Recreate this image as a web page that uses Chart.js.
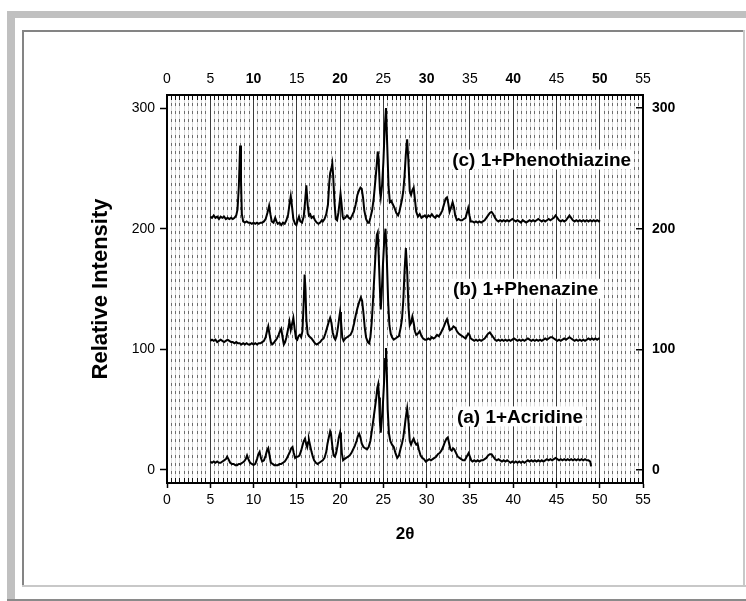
<!DOCTYPE html>
<html>
<head>
<meta charset="utf-8">
<title>XRD patterns</title>
<script src="https://cdn.jsdelivr.net/npm/chart.js@4.4.1/dist/chart.umd.min.js"></script>
<style>
  html, body { margin: 0; padding: 0; background: #fff; }
  canvas { display: block; }
</style>
</head>
<body>
<canvas id="xrd" width="746" height="601"></canvas>
<script>
// Powder XRD patterns: [2θ, relative intensity]; each pattern is stacked with its own offset
const phenothiazine = [
  [5.0,210],[5.2,209],[5.4,211],[5.6,209],[5.8,210],[6.0,208],[6.2,210],[6.4,209],[6.6,210],[6.8,208],
  [7.0,209],[7.2,208],[7.4,209],[7.6,208],[7.8,209],[8.0,211],[8.15,216],[8.3,235],[8.45,269],[8.55,240],
  [8.65,212],[8.8,206],[9.0,205],[9.2,206],[9.4,205],[9.6,205],[9.8,204],[10.0,205],[10.2,204],[10.4,205],
  [10.6,204],[10.8,205],[11.0,205],[11.2,206],[11.4,208],[11.6,213],[11.8,219],[11.95,212],[12.1,206],[12.3,205],
  [12.5,209],[12.65,206],[12.8,204],[13.0,205],[13.2,203],[13.4,205],[13.6,204],[13.8,207],[14.0,212],[14.15,220],
  [14.3,227],[14.45,218],[14.6,208],[14.8,204],[14.95,203],[15.1,207],[15.25,210],[15.4,206],[15.6,205],[15.8,210],
  [15.95,222],[16.1,236],[16.25,220],[16.4,211],[16.55,212],[16.7,209],[16.9,210],[17.1,207],[17.3,205],[17.5,204],
  [17.7,205],[17.9,207],[18.0,206],[18.2,208],[18.4,212],[18.6,220],[18.75,238],[18.85,246],[19.0,250],[19.1,254],
  [19.2,244],[19.35,222],[19.5,208],[19.65,207],[19.8,213],[19.95,222],[20.05,229],[20.15,222],[20.3,210],[20.4,208],
  [20.6,209],[20.8,211],[21.0,209],[21.2,208],[21.4,211],[21.6,214],[21.8,220],[22.0,228],[22.2,232],[22.35,234],
  [22.5,233],[22.65,226],[22.8,215],[23.0,208],[23.2,205],[23.35,205],[23.5,209],[23.7,215],[23.9,226],[24.05,238],
  [24.2,250],[24.35,264],[24.45,258],[24.6,232],[24.7,226],[24.85,236],[25.0,255],[25.15,282],[25.3,300],[25.45,268],
  [25.6,235],[25.75,222],[25.9,223],[26.1,220],[26.3,217],[26.5,213],[26.7,211],[26.85,214],[27.0,219],[27.15,224],
  [27.3,231],[27.45,244],[27.6,262],[27.75,274],[27.9,255],[28.05,231],[28.2,228],[28.35,232],[28.5,234],[28.65,224],
  [28.8,214],[29.0,210],[29.2,212],[29.4,209],[29.6,210],[29.8,211],[30.0,209],[30.2,211],[30.4,210],[30.6,212],
  [30.8,210],[31.0,209],[31.2,211],[31.4,210],[31.6,212],[31.8,215],[32.0,220],[32.2,225],[32.35,226],[32.5,221],
  [32.65,214],[32.8,217],[33.0,222],[33.15,218],[33.3,211],[33.5,207],[33.7,208],[33.9,207],[34.1,207],[34.3,208],
  [34.5,209],[34.65,213],[34.8,217],[34.95,211],[35.1,206],[35.3,206],[35.5,205],[35.7,206],[35.9,205],[36.1,206],
  [36.3,205],[36.5,206],[36.7,207],[36.9,209],[37.1,211],[37.3,213],[37.5,214],[37.7,212],[37.9,209],[38.1,207],
  [38.3,206],[38.5,207],[38.7,206],[38.9,207],[39.1,206],[39.3,207],[39.5,206],[39.7,207],[39.9,208],[40.1,207],
  [40.3,206],[40.5,207],[40.7,206],[40.9,205],[41.1,207],[41.3,206],[41.5,205],[41.7,206],[41.9,207],[42.1,206],
  [42.3,207],[42.5,206],[42.7,207],[42.9,208],[43.1,207],[43.3,206],[43.5,207],[43.7,206],[43.9,207],[44.1,208],
  [44.3,207],[44.5,208],[44.7,209],[44.9,211],[45.1,209],[45.3,207],[45.5,206],[45.7,207],[45.9,206],[46.1,207],
  [46.3,209],[46.5,211],[46.7,209],[46.9,207],[47.1,206],[47.3,207],[47.5,206],[47.7,207],[47.9,206],[48.1,207],
  [48.3,206],[48.5,207],[48.7,206],[48.9,207],[49.1,206],[49.3,207],[49.5,206],[49.7,207],[49.9,206],[50.0,207]
];

const phenazine = [
  [5.0,107],[5.2,108],[5.4,107],[5.6,108],[5.8,106],[6.0,107],[6.2,108],[6.4,107],[6.6,106],[6.8,107],
  [7.0,108],[7.2,107],[7.4,106],[7.6,106],[7.8,105],[8.0,106],[8.2,105],[8.4,105],[8.6,104],[8.8,105],
  [9.0,104],[9.2,105],[9.4,104],[9.6,104],[9.8,105],[10.0,104],[10.2,105],[10.4,104],[10.6,105],[10.8,105],
  [11.0,106],[11.2,107],[11.4,110],[11.55,115],[11.7,119],[11.85,112],[12.0,106],[12.15,104],[12.3,105],[12.5,107],
  [12.7,109],[12.9,112],[13.05,115],[13.2,117],[13.35,110],[13.5,104],[13.65,106],[13.8,110],[14.0,117],[14.15,123],
  [14.3,116],[14.45,121],[14.6,126],[14.75,117],[14.9,109],[15.05,108],[15.2,111],[15.35,112],[15.5,110],[15.65,115],
  [15.8,140],[15.9,162],[16.0,150],[16.1,125],[16.25,113],[16.4,111],[16.55,110],[16.7,109],[16.9,107],[17.1,105],
  [17.3,104],[17.5,105],[17.7,106],[17.9,108],[18.1,109],[18.3,113],[18.5,118],[18.7,123],[18.85,126],[19.0,122],
  [19.15,114],[19.3,110],[19.45,108],[19.6,111],[19.75,118],[19.9,126],[20.0,131],[20.1,124],[20.25,110],[20.4,107],
  [20.6,109],[20.8,110],[21.0,111],[21.2,112],[21.4,115],[21.6,121],[21.8,128],[22.0,134],[22.2,139],[22.4,143],
  [22.55,140],[22.7,130],[22.85,118],[23.0,110],[23.2,106],[23.35,105],[23.5,110],[23.65,122],[23.8,140],[23.95,160],
  [24.1,180],[24.25,195],[24.35,197],[24.45,180],[24.6,150],[24.7,133],[24.8,145],[24.95,170],[25.1,190],[25.25,200],
  [25.4,175],[25.55,140],[25.7,120],[25.85,113],[26.0,110],[26.2,108],[26.4,109],[26.6,110],[26.8,111],[27.0,118],
  [27.15,125],[27.3,140],[27.45,165],[27.6,184],[27.75,165],[27.9,135],[28.05,120],[28.2,122],[28.35,127],[28.5,122],
  [28.65,115],[28.8,112],[29.0,113],[29.2,115],[29.4,111],[29.6,109],[29.8,108],[30.0,108],[30.2,109],[30.4,108],
  [30.6,110],[30.8,109],[31.0,110],[31.2,112],[31.4,111],[31.6,113],[31.8,116],[32.0,119],[32.2,123],[32.35,125],
  [32.5,121],[32.7,116],[32.9,117],[33.1,119],[33.3,118],[33.5,115],[33.7,113],[33.9,112],[34.1,111],[34.3,110],
  [34.5,109],[34.65,111],[34.8,113],[34.95,112],[35.1,109],[35.3,108],[35.5,107],[35.7,108],[35.9,107],[36.1,108],
  [36.3,107],[36.5,108],[36.7,109],[36.9,111],[37.1,113],[37.3,114],[37.5,112],[37.7,110],[37.9,108],[38.1,107],
  [38.3,108],[38.5,107],[38.7,108],[38.9,107],[39.1,108],[39.3,107],[39.5,108],[39.7,107],[39.9,108],[40.1,109],
  [40.3,108],[40.5,107],[40.7,108],[40.9,107],[41.1,108],[41.3,107],[41.5,108],[41.7,109],[41.9,108],[42.1,107],
  [42.3,108],[42.5,107],[42.7,108],[42.9,107],[43.1,108],[43.3,107],[43.5,108],[43.7,109],[43.9,108],[44.1,109],
  [44.3,110],[44.5,110],[44.7,109],[44.9,108],[45.1,107],[45.3,108],[45.5,107],[45.7,108],[45.9,109],[46.1,108],
  [46.3,109],[46.5,110],[46.7,109],[46.9,108],[47.1,107],[47.3,108],[47.5,107],[47.7,108],[47.9,107],[48.1,108],
  [48.3,107],[48.5,108],[48.7,109],[48.9,108],[49.1,109],[49.3,108],[49.5,109],[49.7,108],[49.9,109],[50.0,109]
];

const acridine = [
  [5.0,7],[5.2,6],[5.4,7],[5.6,6],[5.8,7],[6.0,6],[6.2,6],[6.4,7],[6.6,8],[6.8,9],
  [6.95,11],[7.1,9],[7.3,6],[7.5,5],[7.7,5],[7.9,4],[8.1,4],[8.3,5],[8.5,5],[8.7,6],
  [8.9,7],[9.1,9],[9.25,12],[9.4,9],[9.6,6],[9.8,5],[10.0,4],[10.2,5],[10.4,9],[10.55,13],
  [10.7,15],[10.85,10],[11.0,7],[11.2,8],[11.4,12],[11.55,16],[11.7,18],[11.85,12],[12.0,6],[12.2,5],
  [12.4,4],[12.6,4],[12.8,4],[13.0,5],[13.2,5],[13.4,6],[13.6,7],[13.8,9],[14.0,12],[14.2,15],
  [14.35,18],[14.5,19],[14.65,14],[14.8,10],[14.95,11],[15.1,11],[15.3,12],[15.5,16],[15.65,20],[15.8,24],
  [15.95,26],[16.1,21],[16.2,19],[16.3,23],[16.4,25],[16.55,20],[16.7,15],[16.85,11],[17.0,8],[17.2,6],
  [17.4,5],[17.6,6],[17.8,7],[18.0,8],[18.2,10],[18.4,15],[18.55,22],[18.7,27],[18.85,32],[18.95,30],
  [19.1,20],[19.25,12],[19.4,11],[19.55,14],[19.7,20],[19.85,27],[20.0,31],[20.1,26],[20.2,14],[20.35,8],
  [20.5,9],[20.7,10],[20.9,11],[21.1,12],[21.3,14],[21.5,17],[21.7,20],[21.9,24],[22.05,28],[22.2,30],
  [22.35,27],[22.5,22],[22.7,19],[22.9,18],[23.1,17],[23.3,19],[23.5,24],[23.7,34],[23.85,42],[24.0,50],
  [24.15,58],[24.3,68],[24.4,71],[24.5,60],[24.6,40],[24.7,31],[24.8,40],[24.95,55],[25.1,75],[25.2,92],
  [25.3,101],[25.4,80],[25.5,50],[25.65,30],[25.8,24],[26.0,21],[26.2,19],[26.4,14],[26.6,10],[26.8,12],
  [27.0,18],[27.15,22],[27.3,27],[27.45,35],[27.6,44],[27.75,51],[27.9,40],[28.05,24],[28.2,21],[28.35,24],
  [28.5,26],[28.65,23],[28.8,21],[28.95,22],[29.1,17],[29.3,12],[29.5,10],[29.7,9],[29.9,7],[30.1,8],
  [30.3,9],[30.5,8],[30.7,9],[30.9,10],[31.1,11],[31.3,13],[31.5,14],[31.7,16],[31.9,19],[32.1,23],
  [32.3,26],[32.45,27],[32.6,22],[32.75,17],[32.9,16],[33.05,18],[33.2,17],[33.4,14],[33.6,11],[33.8,10],
  [34.0,9],[34.2,8],[34.4,8],[34.55,10],[34.7,12],[34.85,14],[35.0,11],[35.15,8],[35.3,7],[35.5,8],
  [35.7,7],[35.9,8],[36.1,7],[36.3,8],[36.5,8],[36.7,9],[36.9,10],[37.1,12],[37.3,13],[37.5,13],
  [37.7,11],[37.9,9],[38.1,8],[38.3,9],[38.5,8],[38.7,7],[38.9,8],[39.1,7],[39.3,8],[39.5,7],
  [39.7,6],[39.9,7],[40.1,6],[40.3,7],[40.5,6],[40.7,7],[40.9,6],[41.1,7],[41.3,6],[41.5,7],
  [41.7,8],[41.9,7],[42.1,8],[42.3,7],[42.5,8],[42.7,7],[42.9,8],[43.1,7],[43.3,8],[43.5,7],
  [43.7,8],[43.9,9],[44.1,8],[44.3,9],[44.5,8],[44.7,9],[44.9,10],[45.1,9],[45.3,8],[45.5,9],
  [45.7,8],[45.9,9],[46.1,8],[46.3,9],[46.5,8],[46.7,9],[46.9,8],[47.1,9],[47.3,8],[47.5,9],
  [47.7,8],[47.9,9],[48.1,8],[48.3,9],[48.5,8],[48.7,8],[48.9,7],[49.0,3]
];

// Axis ticks
const thetaTicks = [0, 5, 10, 15, 20, 25, 30, 35, 40, 45, 50, 55];
const intensityTicks = [0, 100, 200, 300];
const thetaMinorStep = 0.5;

// Curve captions: text, left edge (2θ), vertical centre (intensity)
const captions = [
  { text: '(c) 1+Phenothiazine', x: 32.95, y: 257.3 },
  { text: '(b) 1+Phenazine', x: 33.05, y: 150.2 },
  { text: '(a) 1+Acridine', x: 33.5, y: 44.4 }
];

const FONT = '"Liberation Sans", Arial, Helvetica, sans-serif';
Chart.defaults.font.family = FONT;
Chart.defaults.color = '#000';

const asPoints = arr => arr.map(p => ({ x: p[0], y: p[1] }));

// half-degree positions for the fine grid and inner tick marks
const halfSteps = [];
for (let v = 0; v <= 55 + 1e-9; v += thetaMinorStep) halfSteps.push(Math.round(v * 10) / 10);
const minorOnly = halfSteps.filter(v => v % 5 !== 0);

const fixedTicks = list => scale => { scale.ticks = list.map(v => ({ value: v })); };

const framePlugin = {
  id: 'frame',
  beforeDraw(chart) {
    const ctx = chart.ctx;
    ctx.save();
    ctx.fillStyle = '#fff';
    ctx.fillRect(0, 0, chart.width, chart.height);
    // outer grey band
    ctx.fillStyle = '#c0c0c0';
    ctx.fillRect(7, 11, chart.width - 7, 7);
    ctx.fillRect(7, 11, 8, chart.height - 11);
    ctx.fillStyle = '#8a8a8a';
    ctx.fillRect(7, 599, chart.width - 7, 2);
    // inner sunken frame
    ctx.fillStyle = '#848484';
    ctx.fillRect(22, 30, 722, 2);
    ctx.fillRect(22, 30, 2, 557);
    ctx.fillStyle = '#c8c8c8';
    ctx.fillRect(22, 585, 724, 2);
    ctx.fillRect(743, 30, 2, 557);
    ctx.restore();
  }
};

const captionPlugin = {
  id: 'captions',
  afterDatasetsDraw(chart) {
    const ctx = chart.ctx;
    const xs = chart.scales.x, ys = chart.scales.y;
    ctx.save();
    ctx.font = 'bold 19px ' + FONT;
    ctx.textBaseline = 'middle';
    ctx.textAlign = 'left';
    captions.forEach(c => {
      const px = xs.getPixelForValue(c.x);
      const py = ys.getPixelForValue(c.y);
      const w = ctx.measureText(c.text).width;
      ctx.fillStyle = '#fff';
      ctx.fillRect(px - 2, py - 10, w + 4, 20);
      ctx.fillStyle = '#000';
      ctx.fillText(c.text, px, py + 1);
    });
    ctx.restore();
  }
};

const lineStyle = {
  borderColor: '#000',
  borderWidth: 2,
  pointRadius: 0,
  tension: 0,
  fill: false
};

new Chart(document.getElementById('xrd'), {
  type: 'line',
  data: {
    datasets: [
      { label: '(a) 1+Acridine', data: asPoints(acridine), ...lineStyle },
      { label: '(b) 1+Phenazine', data: asPoints(phenazine), ...lineStyle },
      { label: '(c) 1+Phenothiazine', data: asPoints(phenothiazine), ...lineStyle }
    ]
  },
  options: {
    responsive: false,
    devicePixelRatio: 1,
    animation: false,
    events: [],
    layout: { padding: 0 },
    plugins: { legend: { display: false }, tooltip: { enabled: false } },
    scales: {
      x: {
        type: 'linear', position: 'bottom', min: 0, max: 55, weight: 0,
        afterBuildTicks: fixedTicks(thetaTicks),
        afterFit: s => { s.height = 118; },
        ticks: { autoSkip: false, maxRotation: 0, padding: 4, font: { size: 14 }, color: '#000' },
        grid: { drawOnChartArea: true, color: '#3a3a3a', lineWidth: 1, drawTicks: true, tickLength: 5, tickColor: '#000', tickWidth: 1.5 },
        border: { display: true, color: '#000', width: 2 },
        title: { display: true, text: '2θ', font: { size: 17, weight: 'bold' }, color: '#000', padding: { top: 0, bottom: 56 } }
      },
      xFaint: {
        type: 'linear', position: 'bottom', min: 0, max: 55, weight: 1,
        afterBuildTicks: fixedTicks(minorOnly),
        afterFit: s => { s.height = 0; },
        ticks: { display: false },
        grid: { drawOnChartArea: true, drawTicks: false, color: '#dcdcdc', lineWidth: 1 },
        border: { display: false }
      },
      xMinor: {
        type: 'linear', position: 'bottom', min: 0, max: 55, weight: 2,
        afterBuildTicks: fixedTicks(minorOnly),
        afterFit: s => { s.height = 0; },
        ticks: { display: false },
        grid: { drawOnChartArea: true, drawTicks: false, color: '#6e6e6e', lineWidth: 1 },
        border: { display: false, dash: [3, 5] }
      },
      xInner: {
        type: 'linear', position: 'bottom', min: 0, max: 55, weight: 3,
        afterBuildTicks: fixedTicks(halfSteps),
        afterFit: s => { s.height = 0; },
        ticks: { display: false },
        grid: { drawOnChartArea: true, drawTicks: false, color: '#111', lineWidth: 1 },
        border: { display: false, dash: [5, 378, 5, 0] }
      },
      x2: {
        type: 'linear', position: 'top', min: 0, max: 55,
        afterBuildTicks: fixedTicks(thetaTicks),
        afterFit: s => { s.height = 95; },
        ticks: {
          autoSkip: false, maxRotation: 0, padding: 7, color: '#000',
          font: c => ({ size: 14, weight: (c.tick && c.tick.value % 10 === 0 && c.tick.value !== 0) ? 'bold' : 'normal' })
        },
        grid: { drawOnChartArea: false, drawTicks: false },
        border: { display: true, color: '#000', width: 2 }
      },
      y: {
        type: 'linear', position: 'left', min: -10.8, max: 310.8,
        afterBuildTicks: fixedTicks(intensityTicks),
        afterFit: s => { s.width = 167; },
        ticks: { padding: 5, font: { size: 14 }, color: '#000' },
        grid: { drawOnChartArea: false, drawTicks: true, tickLength: 7, tickColor: '#000', tickWidth: 1.5 },
        border: { display: true, color: '#000', width: 2 },
        title: { display: true, text: 'Relative Intensity', font: { size: 22, weight: 'bold' }, color: '#000', padding: { top: 88, bottom: 0 } }
      },
      y2: {
        type: 'linear', position: 'right', min: -10.8, max: 310.8,
        afterBuildTicks: fixedTicks(intensityTicks),
        afterFit: s => { s.width = 103; },
        ticks: { padding: 9, font: { size: 14, weight: 'bold' }, color: '#000' },
        grid: { drawOnChartArea: true, drawTicks: false, color: '#000', lineWidth: 1.5 },
        border: { display: true, color: '#000', width: 2, dash: [0, 469, 7, 0] }
      }
    }
  },
  plugins: [framePlugin, captionPlugin]
});
</script>
</body>
</html>
